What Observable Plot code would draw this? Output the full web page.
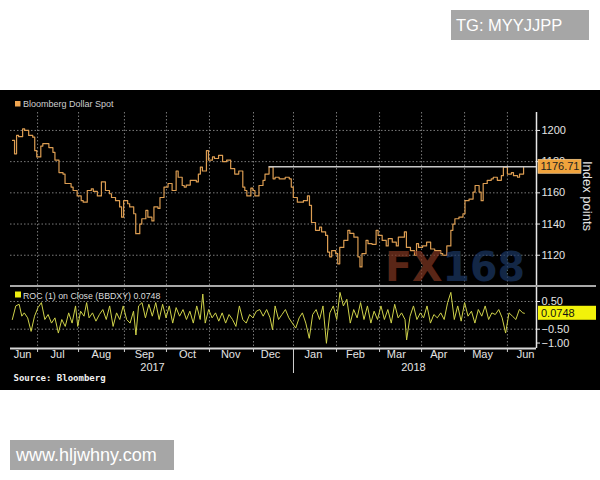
<!DOCTYPE html>
<html><head><meta charset="utf-8">
<script src="https://cdn.jsdelivr.net/npm/d3@7"></script>
<script src="https://cdn.jsdelivr.net/npm/@observablehq/plot@0.6"></script>
<style>
html,body{margin:0;padding:0;background:#fff;}
#page{position:relative;width:600px;height:480px;overflow:hidden;font-family:"Liberation Sans",Arial,sans-serif;}
#black{position:absolute;left:0;top:90px;width:600px;height:300px;background:#000;}
#upper{position:absolute;left:0;top:90px;}
#lower{position:absolute;left:0;top:285px;}
#upper svg,#lower svg{display:block;overflow:visible;}
.tag{position:absolute;background:#a6a6a6;color:#fff;box-sizing:border-box;white-space:nowrap;}
#tg{left:451px;top:10px;width:138px;height:30px;font-size:16.5px;line-height:30px;padding-left:5px;}
#www{left:10px;top:440px;width:164px;height:30px;font-size:18px;line-height:30px;padding-left:6px;}
</style></head><body>
<div id="page">
  <div id="black"></div>
  <div id="upper"></div>
  <div id="lower"></div>
  <div class="tag" id="tg">TG: MYYJJPP</div>
  <div class="tag" id="www">www.hljwhny.com</div>
</div>
<script>
// ---- Data (x = trading-day index from the left edge of the chart) ----
const priceDays = [1,2,3,4,6,7,9,11,12,13,15,16,19,21,22,24,26,27,30,31,33,35,36,38,40,41,43,45,47,49,50,52,54,55,56,58,59,61,62,64,65,67,68,70,71,73,74,76,78,80,82,83,85,86,87,89,92,93,94,95,97,98,100,101,103,105,107,109,111,113,115,116,117,119,120,121,123,125,126,128,130,131,133,134,136,138,139,140,142,144,145,147,148,149,151,153,154,156,157,158,159,161,162,163,165,167,168,170,172,173,174,176,177,179,181,182,184,186,187,189,191,192,195,196,198,200,201,202,204,206,208,210,213,214,216,218,219,220,222,224,225,227,229,230,232,233,234,236,238,239,241,243,244,246,248,249,251,252,254];
const priceValues = [1193.6,1185,1196.8,1196,1201,1200,1196.8,1195.7,1187,1183,1190,1191.5,1189,1186,1181,1173,1172,1166,1163.7,1161.5,1158,1155,1154,1161.5,1162.6,1161,1158,1167,1161.5,1159.4,1157,1155,1151,1144.4,1155,1153,1151,1146.6,1133.8,1140,1143.4,1148.7,1144.4,1142,1151,1150,1157,1163.7,1166,1161.5,1174,1170,1164.7,1163.7,1165,1168,1167,1172,1176.5,1174,1187,1181,1183,1182,1184,1180,1181,1175.5,1172,1174,1163.7,1161.5,1158,1163,1161.5,1158,1164.7,1168,1172,1176.7,1169,1170,1169,1169,1170,1169,1163.7,1157,1154,1154,1155,1158,1152,1141,1136,1138,1135,1132.7,1122,1119,1123,1121,1114.5,1125,1129.5,1136,1134,1131.6,1119,1112.5,1121,1129.5,1127.4,1127,1136,1132.7,1129.5,1126,1130.6,1128.4,1126,1131.6,1135,1125,1123,1120,1127.4,1125,1126,1128.4,1124,1123,1121,1120,1126,1136,1140,1143.4,1144.4,1146.6,1155,1156,1160.5,1164.7,1160.5,1155,1166,1168,1169,1170,1168,1171,1176.5,1172,1173,1171,1170,1172,1176.71];
const rocDays = [0.9,2.6,4.3,5.6,6.8,8.5,10.2,11.9,13.6,15.3,17.0,18.6,20.3,22.0,23.7,25.4,27.1,28.8,30.5,32.2,33.3,34.7,36.4,37.7,38.9,40.6,42.3,44.0,45.7,47.4,49.1,50.8,52.5,54.1,55.8,57.5,59.2,60.9,62.1,63.4,65.1,66.8,68.5,70.2,71.9,73.6,75.3,77.0,78.6,80.3,82.0,83.7,85.4,87.1,88.8,90.5,92.2,93.9,95.2,96.4,98.1,99.8,101.5,103.1,104.8,106.5,108.2,109.9,111.6,113.3,115.0,116.7,118.4,120.0,121.7,123.4,125.1,126.8,128.5,129.7,131.0,132.7,134.4,136.1,137.8,139.5,141.2,142.9,144.5,146.2,147.9,149.6,151.3,153.0,154.7,156.4,158.1,159.8,161.5,163.1,164.8,166.5,168.2,169.9,171.6,173.3,175.0,176.7,178.4,180.0,181.7,183.4,185.1,186.8,188.5,190.2,191.9,193.6,195.3,196.1,197.8,199.5,201.2,202.9,204.5,206.2,207.9,209.6,211.3,213.0,214.7,216.4,218.0,219.7,221.4,223.1,224.8,226.5,228.2,229.9,231.6,233.3,235.0,236.7,238.3,240.0,241.7,243.4,245.1,246.8,248.5,250.2,251.9,253.6,254.4];
const rocValues = [-0.15,0.34,0.40,-0.03,0.09,-0.09,-0.58,-0.03,0.28,0.46,-0.15,0.03,-0.28,-0.09,-0.64,-0.15,-0.40,0.09,-0.28,0.34,-0.40,0.15,-0.03,0.46,-0.09,0.09,-0.21,0.03,0.21,-0.15,0.34,-0.40,0.09,-0.15,0.34,-0.15,-0.28,0.15,-0.71,0.34,0.46,-0.09,0.40,-0.03,0.46,-0.15,0.40,-0.09,0.34,-0.28,0.28,-0.03,0.21,-0.15,0.15,-0.28,0.34,-0.15,0.77,-0.28,0.21,-0.09,0.09,-0.21,0.09,-0.28,0.03,-0.15,-0.40,0.34,-0.15,-0.28,0.03,-0.09,0.15,0.21,-0.03,0.21,-0.09,-0.52,0.34,-0.15,0.03,0.21,-0.09,-0.28,-0.46,-0.09,0.09,-0.28,-0.83,0.03,0.21,-0.15,0.34,-1.01,0.09,0.34,-0.15,0.83,0.34,0.58,-0.28,0.21,-0.09,0.46,-0.15,0.34,-0.28,0.15,-0.15,0.34,-0.15,0.21,-0.28,0.40,-0.09,0.09,-0.15,-0.89,-0.03,0.34,-0.15,0.09,-0.09,0.34,-0.28,0.03,-0.09,0.09,-0.15,0.46,0.83,-0.15,0.34,-0.21,0.46,-0.03,0.15,-0.28,0.21,-0.03,0.34,-0.15,0.09,0.03,0.21,-0.09,-0.64,0.09,-0.03,-0.15,0.21,0.09,0.0748];

const monthStarts = [13.4,33.7,56.4,77.2,98.5,120.3,140.1,161.4,182.7,203.5,224.8,246];
const monthMids = [6,23.3,45,66.3,87.6,109,128.7,150,170.8,191,212,233.7,255];
const monthLabels = ["Jun","Jul","Aug","Sep","Oct","Nov","Dec","Jan","Feb","Mar","Apr","May","Jun"];
const yearDays = [70.3,199.5];
const yearLabels = ["2017","2018"];
const yearBreak = [140.1];
const priceTicks = [1120,1140,1160,1180,1200];
const rocTicks = [0.5,-0.5,-1];
const rocGrid = [0.5,-0.5];
const lastPrice = 1176.71;
const lastRoc = 0.0748;
const refStartDay = 128;
const xDomain = [0, 260.4];

const FONT = '"Liberation Sans", Arial, sans-serif';
const price = priceDays.map((d, i) => ({d, v: priceValues[i]}));
const roc = rocDays.map((d, i) => ({d, v: rocValues[i]}));
const grid = {stroke: "#7a7a7a", strokeDasharray: "1.5,2", strokeWidth: 1};
const baseStyle = {background: "transparent", color: "#e4e4e4", fontFamily: FONT, fontSize: "11px"};

// ---- Upper panel ----
const upper = Plot.plot({
  width: 600, height: 195,
  marginLeft: 10, marginRight: 64, marginTop: 22, marginBottom: 0,
  style: baseStyle,
  x: {domain: xDomain, axis: null},
  y: {domain: [1100.6, 1211.5]},
  marks: [
    Plot.ruleX(monthStarts, grid),
    Plot.ruleY(priceTicks, grid),
    Plot.line(price, {x: "d", y: "v", curve: "step-after", stroke: "#dc9d52", strokeWidth: 1.2}),
    Plot.ruleY([lastPrice], {x1: refStartDay, x2: xDomain[1], stroke: "#c8c8c8", strokeWidth: 1.5}),
    Plot.ruleX([xDomain[1]], {stroke: "#e8e8e8", strokeWidth: 1.5}),
    Plot.axisY(priceTicks, {anchor: "right", tickSize: 3, tickPadding: 2, tickFormat: d3.format("d"), label: null, stroke: "#e8e8e8", fill: "#e4e4e4"})
  ]
});
document.getElementById("upper").appendChild(upper);
{
  const su = d3.select(upper);
  const ys = upper.scale("y");
  // watermark
  const wm = su.append("text").attr("x", 385).attr("y", 191).attr("text-anchor", "start")
    .attr("font-family", "DejaVu Sans").attr("font-weight", "bold").attr("font-size", 41)
    .attr("textLength", 140).attr("lengthAdjust", "spacingAndGlyphs").attr("opacity", 0.72);
  wm.append("tspan").attr("fill", "#7d3520").text("FX");
  wm.append("tspan").attr("fill", "#1b3662").text("168");
  // legend
  su.append("rect").attr("x", 15).attr("y", 11).attr("width", 5.5).attr("height", 5.5).attr("fill", "#f0a550");
  su.append("text").attr("x", 23).attr("y", 17).attr("text-anchor", "start").attr("font-size", 9).attr("fill", "#cfcfcf")
    .attr("font-family", FONT).text("Bloomberg Dollar Spot");
  // last price label
  const yc = ys.apply(lastPrice);
  su.append("rect").attr("x", 538).attr("y", yc - 7).attr("width", 43).attr("height", 14)
    .attr("fill", "#f0a33c").attr("stroke", "#ffd9a0").attr("stroke-width", 0.6);
  su.append("text").attr("x", 540.5).attr("y", yc + 4).attr("text-anchor", "start").attr("font-size", 11).attr("fill", "#1e1e1e")
    .attr("font-family", FONT).text("1176.71");
  // axis title
  su.append("text").attr("transform", "translate(583,106) rotate(90)").attr("text-anchor", "middle")
    .attr("font-size", 13).attr("fill", "#e4e4e4").attr("font-family", FONT).text("Index points");
}

// ---- Lower panel ----
const lower = Plot.plot({
  width: 600, height: 105,
  marginLeft: 10, marginRight: 64, marginTop: 0, marginBottom: 42,
  style: baseStyle,
  x: {domain: xDomain},
  y: {domain: [-1.197, 1.078]},
  marks: [
    Plot.ruleX(monthStarts, grid),
    Plot.ruleY(rocGrid, grid),
    Plot.line(roc, {x: "d", y: "v", stroke: "#cfd24a", strokeWidth: 1}),
    Plot.ruleY([-1.197], {stroke: "#d8d8d8", strokeWidth: 2}),
    Plot.ruleX([xDomain[1]], {stroke: "#e8e8e8", strokeWidth: 1.5}),
    Plot.axisY(rocTicks, {anchor: "right", tickSize: 3, tickPadding: 2, tickFormat: d3.format(".2f"), label: null, stroke: "#e8e8e8", fill: "#e4e4e4"}),
    Plot.axisX(monthStarts, {tickSize: 4, tickFormat: () => "", label: null, stroke: "#d0d0d0"}),
    Plot.axisX(yearBreak, {tickSize: 25, tickFormat: () => "", label: null, stroke: "#d0d0d0"}),
    Plot.text(monthLabels, {x: monthMids, text: d => d, frameAnchor: "bottom", lineAnchor: "top", dy: 2, fill: "#e4e4e4", fontSize: 11}),
    Plot.text(yearLabels, {x: yearDays, text: d => d, frameAnchor: "bottom", lineAnchor: "top", dy: 15, fill: "#e4e4e4", fontSize: 11}),
    Plot.text(["Source: Bloomberg"], {text: d => d, frameAnchor: "bottom-left", dx: 3, dy: 32, fill: "#f0f0f0", fontWeight: "bold", fontSize: 9, fontFamily: "DejaVu Sans Mono"})
  ]
});
document.getElementById("lower").appendChild(lower);
{
  const sl = d3.select(lower);
  const ys = lower.scale("y");
  sl.append("line").attr("x1", 10).attr("x2", 596).attr("y1", 1).attr("y2", 1)
    .attr("stroke", "#a8a8a8").attr("stroke-width", 2.2);
  sl.append("rect").attr("x", 15).attr("y", 6.5).attr("width", 6).attr("height", 6).attr("fill", "#eeee10");
  sl.append("text").attr("x", 23).attr("y", 13.5).attr("text-anchor", "start").attr("font-size", 8.8).attr("fill", "#dcdcdc")
    .attr("font-family", FONT).text("ROC (1) on Close (BBDXY) 0.0748");
  const yc = ys.apply(lastRoc);
  sl.append("rect").attr("x", 538).attr("y", yc - 7).attr("width", 58).attr("height", 14).attr("fill", "#f2f20a");
  sl.append("text").attr("x", 541).attr("y", yc + 4).attr("text-anchor", "start").attr("font-size", 11).attr("fill", "#111")
    .attr("font-family", FONT).text("0.0748");
}
</script>
</body></html>
